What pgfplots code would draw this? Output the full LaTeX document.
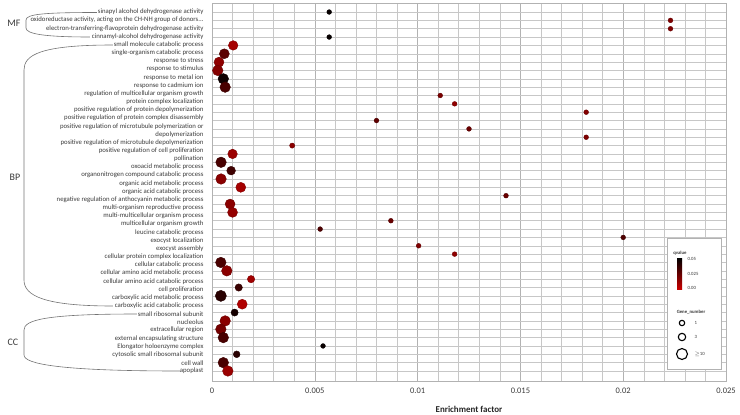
\documentclass[border=0pt]{standalone}
\usepackage{fontspec}
\setmainfont{Carlito}
\usepackage{pgfplots}
\pgfplotsset{compat=1.18}
\usetikzlibrary{calc}

\definecolor{txt}{HTML}{3a3a3a}
\definecolor{qred}{RGB}{200,0,0}

\begin{document}
\begin{tikzpicture}
\begin{axis}[
  scale only axis, width=514bp, height=378bp,
  at={(0,0)}, anchor=south west,
  xmin=0, xmax=0.025, ymin=-0.08, ymax=45.2, y dir=reverse,
  scaled x ticks=false,
  xtick={0,0.005,0.01,0.015,0.02,0.025},
  xticklabels={0,0.005,0.01,0.015,0.02,0.025},
  minor x tick num=4,
  xmajorgrids, xminorgrids,
  ytick={1,1.977,2.955,3.932,4.909,5.886,6.864,7.841,8.818,9.795,10.773,11.750,12.727,13.705,14.682,15.659,16.636,17.614,18.591,19.568,20.545,21.523,22.500,23.477,24.455,25.432,26.409,27.386,28.364,29.341,30.318,31.295,32.273,33.250,34.227,35.205,36.182,37.159,38.136,39.114,40.091,41.068,42.045,43.023,44},
  yticklabels={sinapyl alcohol dehydrogenase activity,
    {oxidoreductase activity, acting on the CH-NH group of donors.{}.{}.},
    electron-transferring-flavoprotein dehydrogenase activity,
    cinnamyl-alcohol dehydrogenase activity,
    small molecule catabolic process,
    single-organism catabolic process,
    response to stress,
    response to stimulus,
    response to metal ion,
    response to cadmium ion,
    regulation of multicellular organism growth,
    protein complex localization,
    positive regulation of protein depolymerization,
    positive regulation of protein complex disassembly,
    positive regulation of microtubule polymerization or,
    depolymerization,
    positive regulation of microtubule depolymerization,
    positive regulation of cell proliferation,
    pollination,
    oxoacid metabolic process,
    organonitrogen compound catabolic process,
    organic acid metabolic process,
    organic acid catabolic process,
    negative regulation of anthocyanin metabolic process,
    multi-organism reproductive process,
    multi-multicellular organism process,
    multicellular organism growth,
    leucine catabolic process,
    exocyst localization,
    exocyst assembly,
    cellular protein complex localization,
    cellular catabolic process,
    cellular amino acid metabolic process,
    cellular amino acid catabolic process,
    cell proliferation,
    carboxylic acid metabolic process,
    carboxylic acid catabolic process,
    small ribosomal subunit,
    nucleolus,
    extracellular region,
    external encapsulating structure,
    Elongator holoenzyme complex,
    cytosolic small ribosomal subunit,
    cell wall,
    apoplast},
  minor ytick={1,2,...,44},
  yminorgrids,
  major tick length=0, minor tick length=0,
  major grid style={draw=black!30, line width=0.6bp},
  minor grid style={draw=black!22, line width=0.5bp},
  axis line style={draw=black!30},
  xticklabel style={font=\fontsize{8.5}{10}\selectfont, text=txt, yshift=-3bp},
  yticklabel style={font=\fontsize{6.8}{7.5}\selectfont, text=txt, xshift=-5bp},
  xlabel={\bfseries Enrichment factor},
  xlabel style={font=\fontsize{9}{10}\selectfont, text=black!85, at={(axis description cs:0.5,0)}, anchor=center, yshift=-28bp},
  colormap={qmap}{rgb255=(200,0,0) rgb255=(0,0,0)},
  point meta min=0, point meta max=0.05,
]
% x = enrichment factor, y = row, q = qvalue, r = bubble radius (gene number)
\addplot[scatter, only marks, mark=*, point meta=explicit,
  visualization depends on={\thisrow{r} \as \rad},
  scatter/@pre marker code/.append style={/tikz/mark size=\rad}]
  table[x=x, y=y, meta=q] {
x y q r
0.0057 1 0.048 2.4
0.0223 2 0.018 2.4
0.0223 3 0.018 2.4
0.0057 4 0.048 2.4
0.00103 5 0.0088 4.8
0.0006 6 0.027 5.0
0.00034 7 0.014 5.0
0.00028 8 0.0168 5.3
0.00055 9 0.046 5.3
0.00064 10 0.0315 5.3
0.0111 11 0.0195 2.4
0.0118 12 0.014 2.4
0.0182 13 0.0168 2.4
0.0080 14 0.026 2.4
0.0125 15 0.0235 2.4
0.0182 16 0.018 2.4
0.0039 17 0.0155 2.6
0.0010 18 0.0115 4.8
0.00044 19 0.0315 5.3
0.00093 20 0.034 4.4
0.00044 21 0.0155 5.3
0.0014 22 0.0088 5.0
0.0143 23 0.0235 2.4
0.00088 24 0.0155 5.0
0.0010 25 0.0128 5.0
0.0087 26 0.0235 2.4
0.00526 27 0.03 2.4
0.0200 28 0.03 2.4
0.01005 29 0.018 2.4
0.0118 30 0.014 2.4
0.00043 31 0.0315 5.3
0.00072 32 0.0155 5.3
0.0019 33 0.01 3.7
0.0013 34 0.0355 3.7
0.00043 35 0.0395 5.6
0.00147 36 0.006 5.0
0.0011 37 0.0445 3.6
0.00064 38 0.0155 5.3
0.00043 39 0.0205 5.3
0.00055 40 0.0315 5.3
0.0054 41 0.0475 2.4
0.0012 42 0.0395 3.4
0.00055 43 0.0315 5.3
0.00077 44 0.0115 5.3
};
\end{axis}

% brackets, group names and legend, in picture pixels
\begin{scope}[shift={(current axis.south west)}, xshift=-212bp, yshift=381bp, x=1bp, y=-1bp]
  \draw[black!55, line width=0.6bp] (97,12.5) .. controls (45,12.5) and (26,14) .. (26,20)
     -- (26,28) .. controls (26,34) and (45,37) .. (90,37);
  \draw[black!55, line width=0.6bp] (113,45) .. controls (40,45) and (24,55) .. (24,70)
     -- (24,280) .. controls (24,296) and (45,306) .. (113,306);
  \draw[black!55, line width=0.6bp] (137,314) .. controls (45,314) and (24,320) .. (24,330)
     -- (24,355) .. controls (24,364) and (60,371) .. (180,371);
  \node[font=\fontsize{10}{11}\selectfont, text=txt] at (14,23) {MF};
  \node[font=\fontsize{10}{11}\selectfont, text=txt] at (15,177) {BP};
  \node[font=\fontsize{10}{11}\selectfont, text=txt] at (13,342) {CC};

  \draw[black!30, fill=white] (667,238) rectangle (721,369);
  \node[font=\fontsize{4.8}{5}\selectfont\bfseries, text=txt] at (680,253) {qvalue};
  \shade[top color=black, bottom color=qred] (677,258) rectangle (682,289);
  \begin{scope}[font=\fontsize{4.8}{5}\selectfont, text=txt]
    \node[anchor=west] at (684,259) {0.05};
    \node[anchor=west] at (684,274) {0.025};
    \node[anchor=west] at (684,288) {0.00};
    \node[font=\fontsize{4.8}{5}\selectfont\bfseries] at (691,312) {Gene\_number};
    \node[anchor=west] at (691,323) {1};
    \node[anchor=west] at (691,337) {3};
    \node[anchor=west] at (691,354) {\ensuremath{\geq}10};
  \end{scope}
  \draw[line width=1.1bp] (682,323) circle[radius=2.7bp];
  \draw[line width=1.1bp] (682,337) circle[radius=3.7bp];
  \draw[line width=1.1bp] (682,354) circle[radius=5.5bp];
\end{scope}

\pgfresetboundingbox
\begin{scope}[shift={(current axis.south west)}, xshift=-212bp, yshift=381bp, x=1bp, y=-1bp]
  \path[use as bounding box] (0,0) rectangle (740,414);
\end{scope}
\end{tikzpicture}
\end{document}
